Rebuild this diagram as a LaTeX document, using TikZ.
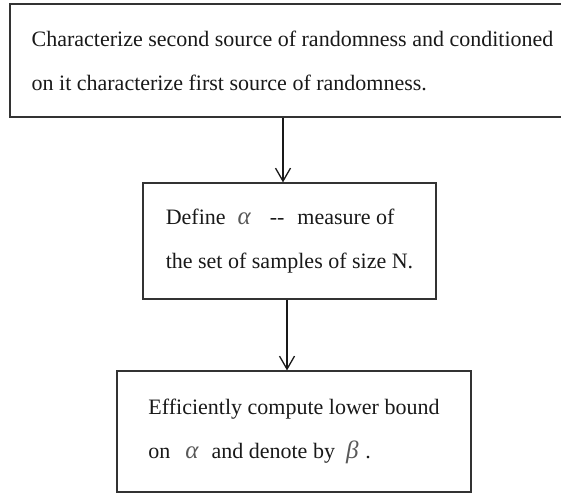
\documentclass[tikz,border=0pt]{standalone}
\usepackage{fontspec}
\setmainfont{Liberation Serif}
\usetikzlibrary{arrows.meta}

\tikzset{
  stepbox/.style={draw=black!80, line width=1.2pt, align=left, inner sep=0pt,
    font=\fontsize{22}{44}\selectfont, text=black!90},
  flow/.style={-{Straight Barb[length=13pt,width=15pt]}, line width=1.3pt, black!90},
}
\newcommand{\grk}[1]{\textcolor{black!65}{\fontsize{25}{44}\selectfont\itshape #1}}

\begin{document}
\begin{tikzpicture}[x=1pt,y=-1pt]
        \useasboundingbox (0,0) rectangle (561,493);

        \node[stepbox, minimum width=565pt, minimum height=113pt] (source) at (292.5,60.5)
        {Characterize second source of randomness and conditioned\\
         on it characterize first source of randomness.};

        \node[stepbox, minimum width=293pt, minimum height=116pt] (define) at (289.5,241)
        {Define\hspace{12pt}\grk{α}\hspace{19pt}-\kern0pt-\hspace{13pt}measure of\\
         the set of samples of size N.};

        \node[stepbox, minimum width=354pt, minimum height=121pt] (bound) at (294,431.5)
        {Efficiently compute lower bound\\
         on\hspace{15pt}\grk{α}\hspace{13pt}and denote by\hspace{11pt}\grk{β}\hspace{7pt}.};

        \draw[flow] ([xshift=-6.5pt]define.north |- source.south) -- ([xshift=-6.5pt]define.north);
        \draw[flow] ([xshift=-2.5pt]define.south) -- ([xshift=-2.5pt]define.south |- bound.north);
    \end{tikzpicture}
\end{document}
